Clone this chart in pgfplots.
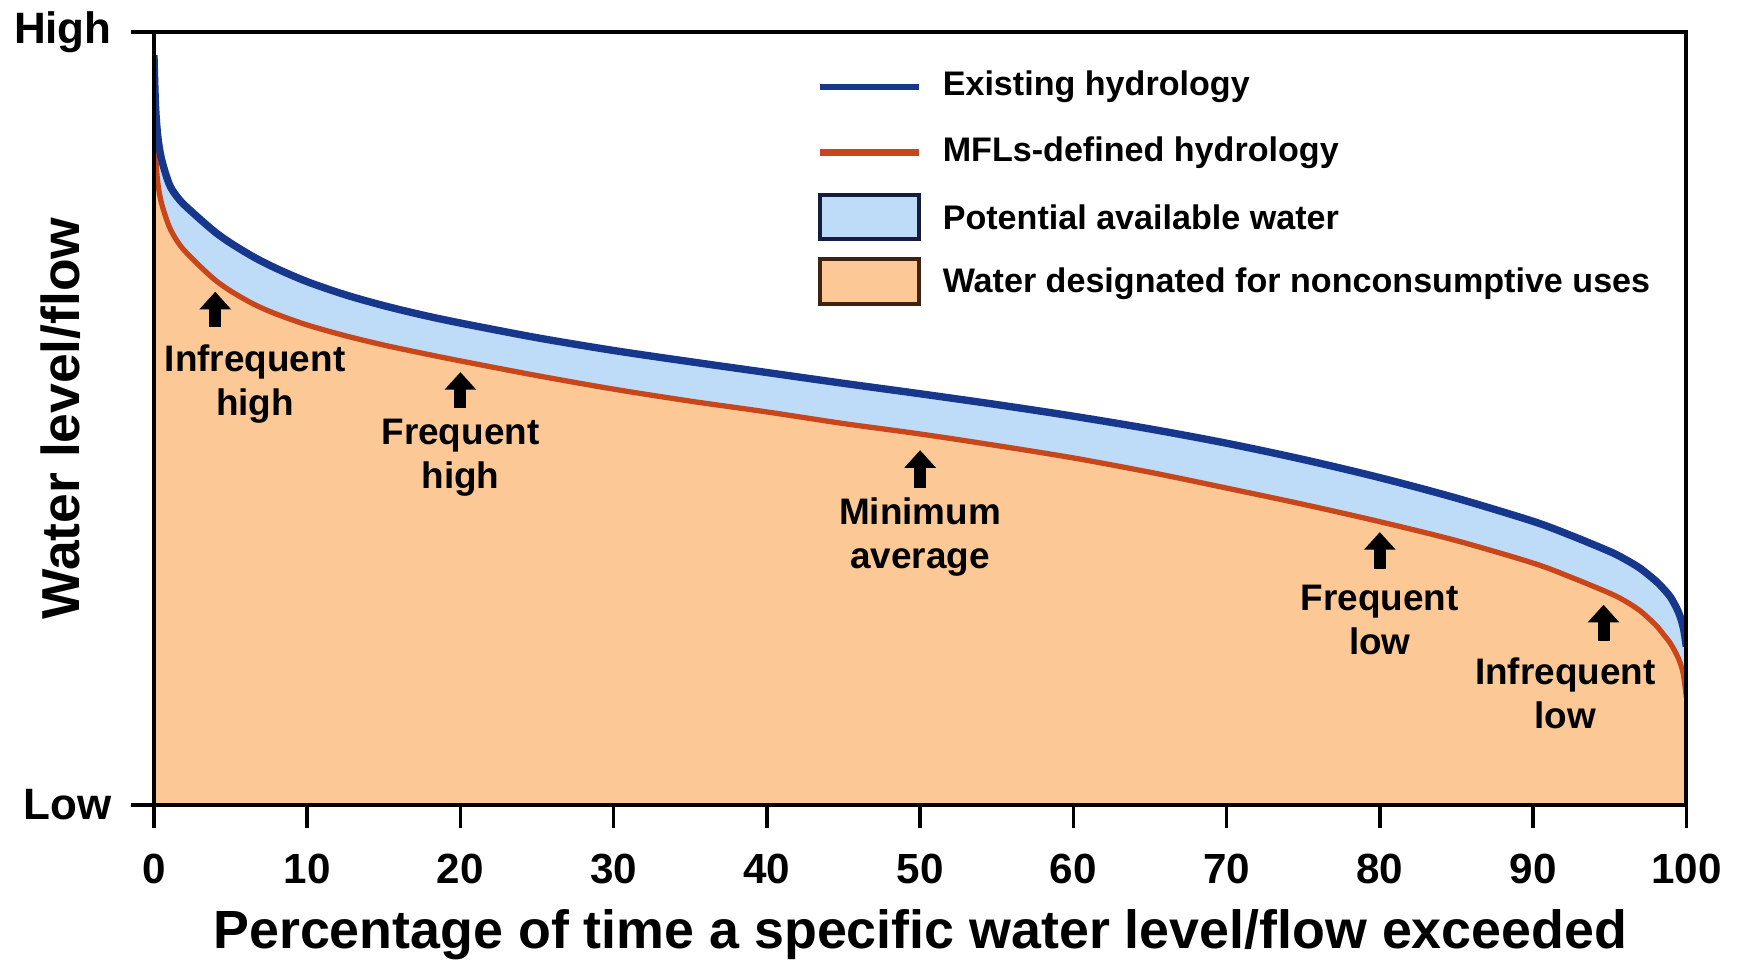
\documentclass[border=0pt]{standalone}
\usepackage{fontspec}
\setmainfont{Liberation Sans}
\usepackage{pgfplots}
\usepackage{pgfplotstable}
\pgfplotsset{compat=1.18}
\usetikzlibrary{arrows.meta}
\definecolor{existblue}{RGB}{22,55,140}
\definecolor{mflred}{RGB}{200,70,25}
\definecolor{availblue}{RGB}{190,220,248}
\definecolor{peach}{RGB}{251,200,150}
\definecolor{boxbrown}{RGB}{60,35,20}
\definecolor{boxnavy}{RGB}{20,30,60}

\pgfplotstableread{
x y
0 97
0.1 90.5
0.25 86.5
0.5 83.5
1 80.3
1.5 78.7
2 77.6
3 75.8
4 74.1
5 72.7
6.5 70.9
8 69.4
10 67.7
12.5 66.0
15 64.6
17.5 63.4
20 62.35
25 60.45
30 58.8
35 57.35
40 55.95
45 54.55
50 53.2
55 51.8
60 50.3
65 48.65
70 46.8
75 44.7
80 42.35
85 39.7
90 36.7
92.5 34.85
95 32.8
96 31.8
97 30.6
98 29.0
98.5 28.0
99 26.8
99.5 24.9
99.8 23.0
100 20.5
}\existing

\pgfplotstableread{
x y
0 92
0.1 84.5
0.25 80.5
0.5 77.8
1 74.8
1.5 73.0
2 71.7
3 69.7
4 67.9
5 66.5
6.5 64.8
8 63.5
10 62.1
12.5 60.7
15 59.5
17.5 58.45
20 57.45
25 55.55
30 53.8
35 52.25
40 50.85
45 49.35
50 48.0
55 46.5
60 44.9
65 43.05
70 41.0
75 38.9
80 36.65
85 34.2
90 31.3
92.5 29.45
95 27.4
96 26.4
97 25.1
98 23.3
98.5 22.1
99 20.8
99.5 18.9
99.8 17.0
100 14.0
}\mfl

\begin{document}
\begin{tikzpicture}[font=\bfseries]
\useasboundingbox (-43.8pt,-45.2pt) rectangle (452.6pt,229.0pt);
\begin{axis}[
  at={(0,0)}, anchor=south west,
  scale only axis, width=435.9pt, height=219.9pt,
  xmin=0, xmax=100, ymin=0, ymax=100,
  axis on top,
  axis line style={line width=1.1pt, black},
  every tick/.style={line width=1pt, black},
  tick align=outside, tick pos=left,
  major tick length=6.5pt,
  xtick={0,10,...,100},
  ytick={0,100}, yticklabels={Low,High},
  /pgf/number format/assume math mode=true,
  xticklabel style={font=\bfseries\fontsize{12}{14}\selectfont, yshift=-4pt},
  yticklabel style={font=\bfseries\fontsize{12.5}{14}\selectfont, xshift=-2pt},
]
\addplot[fill=availblue, draw=none, smooth, tension=0.5] table {\existing} \closedcycle;
\addplot[fill=peach, draw=none, smooth, tension=0.5] table {\mfl} \closedcycle;
\addplot[mflred, line width=1.5pt, smooth, tension=0.5] table {\mfl};
\addplot[mflred, line width=1.5pt] coordinates {(100,14) (100,0)};
\addplot[existblue, line width=2.1pt, smooth, tension=0.5] table {\existing};

\begin{scope}[every node/.style={font=\bfseries\fontsize{10.5}{12.5}\selectfont, align=center, inner sep=0pt}]
\node at (axis cs:6.6,54.5) {Infrequent\\high};
\node at (axis cs:20,44.9) {Frequent\\high};
\node at (axis cs:50,34.7) {Minimum\\average};
\node at (axis cs:80,23.9) {Frequent\\low};
\node at (axis cs:92.1,14.4) {Infrequent\\low};
\end{scope}
\begin{scope}[line width=3.4pt, -{Triangle[width=8.7pt,length=5pt]}]
\draw (axis cs:4,61.9) -- (axis cs:4,66.4);
\draw (axis cs:20,51.4) -- (axis cs:20,56.0);
\draw (axis cs:50,41.0) -- (axis cs:50,45.9);
\draw (axis cs:80,30.5) -- (axis cs:80,35.3);
\draw (axis cs:94.6,21.2) -- (axis cs:94.6,25.9);
\end{scope}
\end{axis}

% axis titles
\node[rotate=90, font=\bfseries\fontsize{15.2}{18}\selectfont] at (-26.5pt,110pt) {Water level/flow};
\node[font=\bfseries\fontsize{15.3}{18}\selectfont] at (218pt,-37pt) {Percentage of time a specific water level/flow exceeded};

% legend
\draw[existblue, line width=1.8pt] (189.5pt,204.3pt) -- (217.6pt,204.3pt);
\draw[mflred, line width=1.8pt] (189.5pt,185.6pt) -- (217.6pt,185.6pt);
\draw[boxnavy, line width=1.2pt, fill=availblue] (189.5pt,161.0pt) rectangle (217.6pt,173.5pt);
\draw[boxbrown, line width=1.2pt, fill=peach] (189.5pt,142.5pt) rectangle (217.6pt,155.3pt);
\begin{scope}[every node/.style={font=\bfseries\fontsize{9.7}{11.6}\selectfont, anchor=west, inner sep=0pt}]
\node at (224.2pt,204.3pt) {Existing hydrology};
\node at (224.2pt,185.6pt) {MFLs-defined hydrology};
\node at (224.2pt,167.3pt) {Potential available water};
\node at (224.2pt,148.3pt) {Water designated for nonconsumptive uses};
\end{scope}
\end{tikzpicture}
\end{document}
